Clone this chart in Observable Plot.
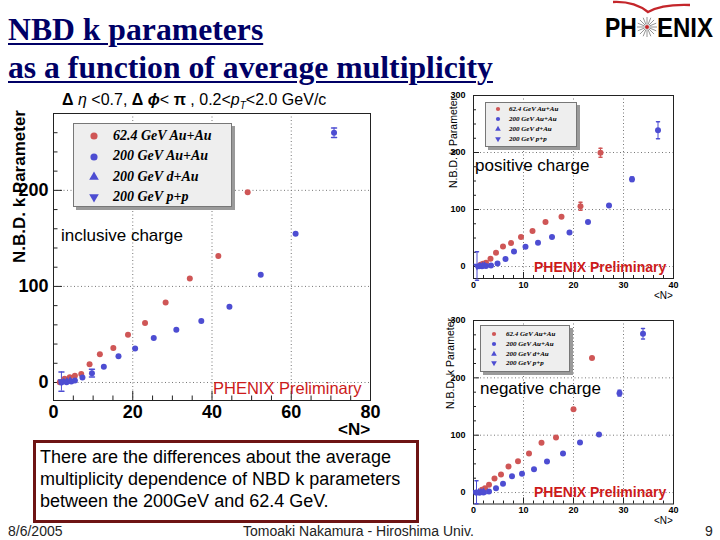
<!DOCTYPE html>
<html><head><meta charset="utf-8">
<script src="https://cdn.jsdelivr.net/npm/d3@7"></script>
<script src="https://cdn.jsdelivr.net/npm/@observablehq/plot@0.6"></script>
<style>
body{margin:0;width:720px;height:540px;position:relative;background:#fff;overflow:hidden;font-family:"Liberation Sans",Arial,sans-serif;color:#000;}
.abs{position:absolute;white-space:nowrap;}
.title{left:8px;top:11px;font-family:"Liberation Serif","Times New Roman",serif;font-weight:bold;font-size:31.7px;line-height:38px;color:#000066;text-decoration:underline;text-decoration-thickness:2px;text-underline-offset:3px;}
.ytitle{writing-mode:vertical-rl;transform:rotate(180deg);}
.legend{background:#eeeeee;border:1px solid #777;box-shadow:3px 3px 0 #9a9a9a;}
.legend .row{position:absolute;font-family:"Liberation Serif","Times New Roman",serif;font-style:italic;font-weight:bold;}
.prelim{color:#cc1a1a;}
.box{left:33px;top:440px;width:376px;height:74px;border:3px solid #6e1414;padding:3px 0 0 4px;font-size:18px;line-height:22px;}
.foot{font-size:14px;line-height:16px;color:#222;top:523px;}
</style></head><body>
<div id="root"></div>
<script>
// ---------------- data ----------------
const seriesNames = ["62.4 GeV Au+Au", "200 GeV Au+Au", "200 GeV d+Au", "200 GeV p+p"];

// inclusive charge
const inclAu62X  = [1.6, 2.8, 4.1, 5.4, 7.0, 9.1, 11.7, 15.1, 18.8, 23.1, 28.3, 34.4, 41.6, 49.0];
const inclAu62Y  = [0.3, 4.0, 5.5, 7.0, 8.8, 19.0, 29.5, 35.8, 49.6, 61.8, 83.3, 108.3, 131.6, 198.0];
const inclAu62E  = [0, 0, 0, 0, 0, 0, 0, 0, 0, 0, 0, 0, 0, 0];
const inclAu200X = [2.0, 3.3, 4.5, 5.4, 7.3, 9.7, 12.7, 16.4, 20.6, 25.3, 31.0, 37.3, 44.4, 52.3, 61.1, 70.8];
const inclAu200Y = [0.0, 0.3, 1.0, 2.0, 5.2, 9.7, 16.3, 27.4, 35.4, 46.2, 54.9, 63.9, 78.8, 112.2, 154.9, 260.0];
const inclAu200E = [0, 0, 0, 0, 0, 4, 0, 0, 0, 0, 0, 0, 0, 0, 0, 5];
const inclDAuX = [2.6, 3.4, 4.2];
const inclDAuY = [0.6, 1.2, 1.8];
const inclDAuE = [0, 0, 0];
const inclPpX = [2.0];
const inclPpY = [1.0];
const inclPpE = [10];

// positive charge
const posAu62X  = [1.4, 1.9, 2.5, 3.4, 4.5, 5.9, 7.5, 9.5, 11.8, 14.4, 17.6, 21.4, 25.4];
const posAu62Y  = [3.0, 4.8, 6.5, 13.6, 24.1, 35.2, 41.2, 51.8, 62.3, 78.2, 87.5, 105.6, 199.6];
const posAu62E  = [0, 0, 0, 0, 0, 0, 0, 0, 0, 0, 0, 7, 8];
const posAu200X = [1.1, 1.7, 2.5, 3.5, 4.8, 6.4, 8.1, 10.4, 12.9, 15.7, 19.2, 22.9, 27.1, 31.7, 36.9];
const posAu200Y = [0.3, 0.5, 1.0, 1.8, 5.3, 13.0, 26.4, 34.7, 41.7, 51.8, 59.9, 78.2, 106.9, 153.2, 239.0];
const posAu200E = [0, 0, 0, 0, 0, 0, 0, 0, 0, 0, 0, 0, 0, 4, 15];
const posDAuX = [1.3, 1.8, 2.2];
const posDAuY = [0.5, 1.0, 1.5];
const posDAuE = [0, 0, 0];
const posPpX = [0.7];
const posPpY = [1.0];
const posPpE = [25];

// negative charge
const negAu62X  = [1.7, 2.3, 3.1, 4.2, 5.5, 7.0, 8.9, 11.1, 13.6, 16.5, 20.0, 23.7];
const negAu62Y  = [4.7, 7.5, 13.4, 24.4, 31.4, 45.4, 54.6, 68.1, 86.7, 96.0, 145.4, 234.4];
const negAu62E  = [0, 0, 0, 0, 0, 0, 0, 0, 0, 0, 0, 0];
const negAu200X = [0.5, 1.2, 2.0, 3.1, 4.5, 5.9, 7.7, 9.7, 12.1, 14.7, 17.9, 21.3, 25.1, 29.2, 33.9];
const negAu200Y = [0.0, -0.3, 0.0, 1.7, 7.5, 15.1, 28.5, 32.6, 40.7, 54.1, 68.1, 87.3, 101.2, 173.3, 276.9];
const negAu200E = [0, 0, 0, 0, 0, 0, 0, 0, 0, 0, 0, 0, 0, 5, 9];
const negDAuX = [1.0, 1.5, 2.0];
const negDAuY = [0.3, 0.6, 1.0];
const negDAuE = [0, 0, 0];
const negPpX = [0.6];
const negPpY = [0.5];
const negPpE = [20];

// axis ticks
const mainXTicks = [0, 20, 40, 60, 80];
const mainYTicks = [0, 100, 200];
const smallXTicks = [0, 10, 20, 30, 40];
const smallYTicks = [0, 100, 200, 300];

// ---------------- helpers ----------------
const colors = {"62.4 GeV Au+Au": "#cf5656", "200 GeV Au+Au": "#4d4dd2", "200 GeV d+Au": "#4d4dd2", "200 GeV p+p": "#4d4dd2"};
function rows(sets) {
  const out = [];
  sets.forEach(([name, X, Y, E]) => X.forEach((x, i) => out.push({series: name, x, y: Y[i], err: E[i]})));
  return out;
}
const capShape = {draw(ctx, l) { ctx.moveTo(-l / 2, 0); ctx.lineTo(l / 2, 0); }};

function nbdChart(cfg) {
  const {width, height, mt, mr, mb, ml, xDomain, yDomain, xMajor, xMinor, yMajor, yMinor,
         tick, fontSize, fontWeight, r, data, xPad, yPad, cap} = cfg;
  const pw = width - ml - mr, ph = height - mt - mb;
  const inside = (v, d) => v > d[0] && v < d[1];
  const errs = data.filter(d => d.err > 0);
  const sym = d => (d.series === "200 GeV d+Au" || d.series === "200 GeV p+p") ? "triangle" : "circle";
  const rot = d => d.series === "200 GeV p+p" ? 180 : 0;
  return Plot.plot({
    width, height, marginTop: mt, marginRight: mr, marginBottom: mb, marginLeft: ml,
    style: {fontFamily: "'Liberation Sans', Arial, sans-serif", fontSize: fontSize + "px", fontWeight, color: "#000", background: "transparent", overflow: "visible"},
    x: {domain: xDomain},
    y: {domain: yDomain},
    marks: [
      Plot.ruleX(xMajor.filter(v => inside(v, xDomain)), {x: d => d, stroke: "#777", strokeDasharray: "1,2.5"}),
      Plot.ruleY(yMajor.filter(v => inside(v, yDomain)), {y: d => d, stroke: "#777", strokeDasharray: "1,2.5"}),
      Plot.tickX(xMajor, {x: d => d, insetTop: ph - tick, stroke: "#222"}),
      Plot.tickX(xMinor.filter(v => !xMajor.includes(v)), {x: d => d, insetTop: ph - tick / 2, stroke: "#222"}),
      Plot.tickY(yMajor.filter(v => inside(v, yDomain) || v === yDomain[1]), {y: d => d, insetRight: pw - tick, stroke: "#222"}),
      Plot.tickY(yMinor.filter(v => !yMajor.includes(v) && inside(v, yDomain)), {y: d => d, insetRight: pw - tick / 2, stroke: "#222"}),
      Plot.axisX(xMajor, {tickSize: 0, tickPadding: xPad, label: null}),
      Plot.axisY(yMajor, {tickSize: 0, tickPadding: yPad, label: null}),
      Plot.frame({stroke: "#222"}),
      Plot.ruleX(errs, {x: "x", y1: d => d.y - d.err, y2: d => d.y + d.err, stroke: d => colors[d.series], strokeWidth: 1}),
      Plot.vector(errs, {x: "x", y: d => d.y + d.err, length: cap, shape: capShape, anchor: "start", stroke: d => colors[d.series]}),
      Plot.vector(errs, {x: "x", y: d => d.y - d.err, length: cap, shape: capShape, anchor: "start", stroke: d => colors[d.series]}),
      Plot.dot(data, {x: "x", y: "y", r: d => sym(d) === "triangle" ? r * 0.9 : r, symbol: sym, rotate: rot, fill: d => colors[d.series], stroke: "none"})
    ]
  });
}

function place(el, left, top) {
  el.style.position = "absolute"; el.style.left = left + "px"; el.style.top = top + "px";
  document.body.appendChild(el);
  return el;
}
function addDiv(html, cls, css) {
  const d = document.createElement("div");
  d.className = "abs " + (cls || "");
  d.innerHTML = html;
  Object.assign(d.style, css);
  document.body.appendChild(d);
  return d;
}
function legend(left, top, w, h, rowsY, markX, textX, fs, msize) {
  const box = addDiv("", "legend", {left: left + "px", top: top + "px", width: w + "px", height: h + "px"});
  seriesNames.forEach((name, i) => {
    const s = d3.select(box).append("svg").style("position", "absolute")
      .style("left", (markX - left - 6) + "px").style("top", (rowsY[i] - top - 6) + "px")
      .attr("width", 12).attr("height", 12);
    const type = i < 2 ? d3.symbolCircle : d3.symbolTriangle;
    s.append("path").attr("d", d3.symbol(type, msize)()).attr("transform", `translate(6,6) rotate(${i === 3 ? 180 : 0})`)
      .attr("fill", colors[name]);
    const row = document.createElement("div");
    row.className = "row";
    row.textContent = name;
    Object.assign(row.style, {left: (textX - left) + "px", top: (rowsY[i] - top - fs * 0.6) + "px", fontSize: fs + "px", lineHeight: (fs * 1.2) + "px"});
    box.appendChild(row);
  });
}

// ---------------- page ----------------
addDiv("NBD k parameters<br>as a function of average multiplicity", "title", {});

// logo
addDiv(`<svg width="118" height="45">
  <path d="M13,2 Q34,1 48,12 Q62,4 90,5" fill="none" stroke="#c4262b" stroke-width="2.4"/>
  <g transform="translate(5,37) scale(0.85,1)"><text font-family="Liberation Sans, Arial" font-weight="bold" font-size="27">PH</text></g>
  <g stroke="#888" stroke-width="0.9">
    ${d3.range(16).map(i => { const a = i * Math.PI / 8; return `<line x1="${47 + 2.5 * Math.cos(a)}" y1="${27 + 2.5 * Math.sin(a)}" x2="${47 + 10 * Math.cos(a)}" y2="${27 + 10 * Math.sin(a)}"/>`; }).join("")}
  </g>
  <circle cx="47" cy="27" r="2" fill="#c4262b"/>
  <g transform="translate(57,37) scale(0.89,1)"><text font-family="Liberation Sans, Arial" font-weight="bold" font-size="27">ENIX</text></g>
</svg>`, "", {left: "600px", top: "0px"});

// main chart
const mainSvg = nbdChart({
  width: 390, height: 345, mt: 23, mr: 20, mb: 35, ml: 53,
  xDomain: [0, 80], yDomain: [-18.75, 280],
  xMajor: mainXTicks, xMinor: d3.range(0, 81, 5), yMajor: mainYTicks, yMinor: d3.range(-0, 281, 20),
  tick: 9, fontSize: 18, fontWeight: "bold", r: 3.5, xPad: 5, yPad: 5, cap: 5,
  data: rows([[seriesNames[0], inclAu62X, inclAu62Y, inclAu62E], [seriesNames[1], inclAu200X, inclAu200Y, inclAu200E],
              [seriesNames[2], inclDAuX, inclDAuY, inclDAuE], [seriesNames[3], inclPpX, inclPpY, inclPpE]])
});
place(mainSvg, 0, 90);
addDiv(`<b>Δ</b> <i>η</i> &lt;0.7, <b>Δ</b> <b><i>ϕ</i></b>&lt; <b>π</b> , 0.2&lt;<i>p<sub style="font-size:10px">T</sub></i>&lt;2.0 GeV/c`, "", {left: "62px", top: "91px", fontSize: "16px", lineHeight: "18px"});
addDiv("N.B.D. k Parameter", "ytitle", {left: "11px", top: "110px", fontSize: "17px", fontWeight: "bold", lineHeight: "18px"});
addDiv("&lt;N&gt;", "", {left: "338px", top: "420px", fontSize: "17px", fontWeight: "bold", lineHeight: "19px"});
legend(73, 123, 157, 82, [135, 155.5, 176, 196], 93, 112, 14, 40);
addDiv("inclusive charge", "", {left: "61px", top: "226px", fontSize: "17px", lineHeight: "20px"});
addDiv("PHENIX Preliminary", "prelim", {left: "213px", top: "378px", fontSize: "16.5px", lineHeight: "20px"});

// positive charge chart
const posSvg = nbdChart({
  width: 240, height: 215, mt: 10, mr: 7, mb: 22, ml: 33,
  xDomain: [0, 40], yDomain: [-21, 300],
  xMajor: smallXTicks, xMinor: d3.range(0, 41, 2), yMajor: smallYTicks, yMinor: d3.range(0, 301, 25),
  tick: 6, fontSize: 9, fontWeight: "bold", r: 2.2, xPad: 3, yPad: 8, cap: 3,
  data: rows([[seriesNames[0], posAu62X, posAu62Y, posAu62E], [seriesNames[1], posAu200X, posAu200Y, posAu200E],
              [seriesNames[2], posDAuX, posDAuY, posDAuE], [seriesNames[3], posPpX, posPpY, posPpE]])
});
place(posSvg, 440, 85);
addDiv("N.B.D. k Parameter", "ytitle", {left: "447px", top: "97px", fontSize: "10.5px", lineHeight: "12px"});
addDiv("&lt;N&gt;", "", {left: "654px", top: "290px", fontSize: "10px", lineHeight: "12px"});
legend(485, 102, 90, 43, [108.3, 118.3, 128.3, 138.3], 497, 508, 7, 14);
addDiv("positive charge", "", {left: "475px", top: "156px", fontSize: "17px", lineHeight: "20px"});
addDiv("PHENIX Preliminary", "prelim", {left: "534px", top: "258px", fontSize: "14px", fontWeight: "bold", lineHeight: "18px"});

// negative charge chart
const negSvg = nbdChart({
  width: 240, height: 215, mt: 10, mr: 7, mb: 21.5, ml: 33,
  xDomain: [0, 40], yDomain: [-20, 300],
  xMajor: smallXTicks, xMinor: d3.range(0, 41, 2), yMajor: smallYTicks, yMinor: d3.range(0, 301, 25),
  tick: 6, fontSize: 9, fontWeight: "bold", r: 2.2, xPad: 3, yPad: 8, cap: 3,
  data: rows([[seriesNames[0], negAu62X, negAu62Y, negAu62E], [seriesNames[1], negAu200X, negAu200Y, negAu200E],
              [seriesNames[2], negDAuX, negDAuY, negDAuE], [seriesNames[3], negPpX, negPpY, negPpE]])
});
place(negSvg, 440, 310);
addDiv("N.B.D. k Parameter", "ytitle", {left: "444px", top: "318px", fontSize: "10.5px", lineHeight: "12px"});
addDiv("&lt;N&gt;", "", {left: "654px", top: "515px", fontSize: "10px", lineHeight: "12px"});
legend(480, 325, 88, 45, [333.3, 343.3, 352.7, 362.3], 492.7, 505, 7, 14);
addDiv("negative charge", "", {left: "480px", top: "379px", fontSize: "17px", lineHeight: "20px"});
addDiv("PHENIX Preliminary", "prelim", {left: "534px", top: "483px", fontSize: "14px", fontWeight: "bold", lineHeight: "18px"});

// text box and footer
addDiv("There are the differences about the average<br>multiplicity dependence of NBD k parameters<br>between the 200GeV and 62.4 GeV.", "box", {});
addDiv("8/6/2005", "foot", {left: "8px"});
addDiv("Tomoaki Nakamura - Hiroshima Univ.", "foot", {left: "243px"});
addDiv("9", "foot", {left: "705px"});
</script>
</body></html>
